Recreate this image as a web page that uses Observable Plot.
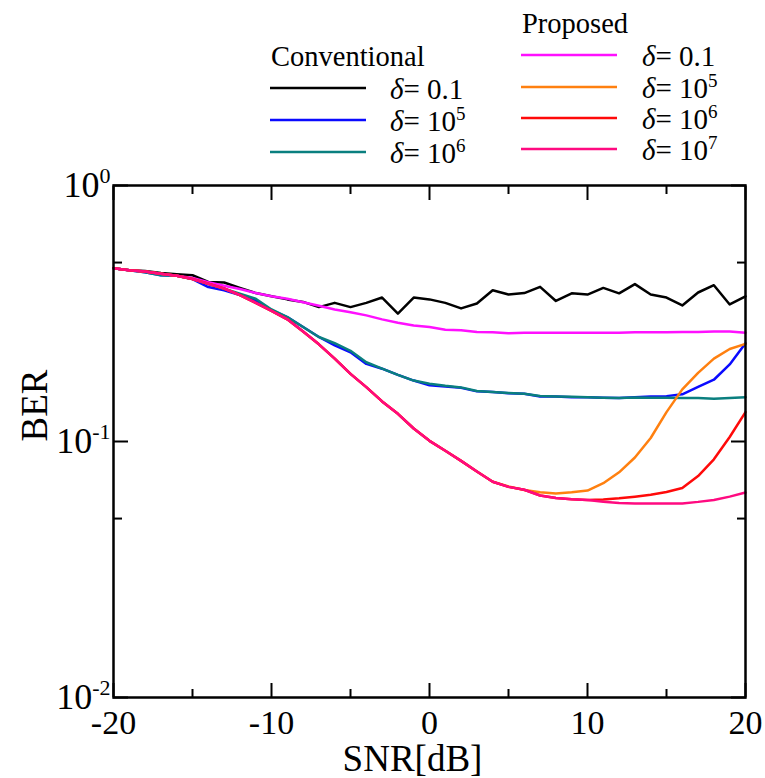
<!DOCTYPE html>
<html>
<head>
<meta charset="utf-8">
<script src="https://cdn.jsdelivr.net/npm/d3@7"></script>
<script src="https://cdn.jsdelivr.net/npm/@observablehq/plot@0.6"></script>
<style>
  body { margin: 0; background: #fff; }
  #wrap { position: relative; width: 765px; height: 778px; font-family: "Liberation Serif", "Times New Roman", serif; }
  #wrap > svg { position: absolute; left: 0; top: 0; }
</style>
</head>
<body>
<div id="wrap"></div>
<script>
// ---------- data ----------
const snr = [-20,-19,-18,-17,-16,-15,-14,-13,-12,-11,-10,-9,-8,-7,-6,-5,-4,-3,-2,-1,0,1,2,3,4,5,6,7,8,9,10,11,12,13,14,15,16,17,18,19,20];

const convD01 = [0.475,0.467,0.463,0.455,0.450,0.446,0.420,0.418,0.398,0.380,0.369,0.359,0.351,0.335,0.348,0.335,0.348,0.365,0.316,0.365,0.359,0.348,0.331,0.346,0.390,0.375,0.380,0.402,0.354,0.379,0.375,0.398,0.379,0.412,0.375,0.365,0.340,0.382,0.408,0.343,0.369];
const convD1e5 = [0.475,0.467,0.458,0.446,0.444,0.431,0.401,0.390,0.373,0.356,0.326,0.306,0.280,0.256,0.2375,0.223,0.201,0.1925,0.182,0.173,0.1657,0.164,0.162,0.157,0.156,0.1545,0.1537,0.150,0.150,0.149,0.149,0.1483,0.1478,0.149,0.150,0.1504,0.1528,0.1633,0.1743,0.200,0.2418];
const convD1e6 = [0.475,0.467,0.458,0.446,0.444,0.431,0.412,0.395,0.378,0.361,0.328,0.306,0.280,0.256,0.242,0.226,0.204,0.1925,0.182,0.173,0.168,0.165,0.1627,0.1576,0.1562,0.1548,0.1537,0.1507,0.150,0.1494,0.149,0.1483,0.1478,0.1487,0.1483,0.1483,0.148,0.1478,0.1469,0.148,0.149];
const propD01 = [0.475,0.467,0.461,0.452,0.444,0.435,0.419,0.406,0.394,0.380,0.369,0.361,0.350,0.339,0.328,0.320,0.311,0.300,0.291,0.284,0.280,0.273,0.272,0.268,0.267,0.265,0.266,0.266,0.266,0.266,0.266,0.266,0.266,0.267,0.267,0.267,0.268,0.268,0.269,0.269,0.266];
const propD1e5 = [0.475,0.467,0.461,0.452,0.444,0.431,0.4135,0.396,0.373,0.348,0.324,0.300,0.269,0.2397,0.2107,0.1837,0.1631,0.1434,0.1283,0.1124,0.1006,0.0920,0.0840,0.0763,0.0696,0.0667,0.0647,0.0633,0.0627,0.0633,0.0643,0.0687,0.0758,0.0866,0.1032,0.1302,0.1598,0.1854,0.2107,0.2298,0.2407];
const propD1e6 = [0.475,0.467,0.461,0.452,0.444,0.431,0.4135,0.396,0.373,0.348,0.324,0.300,0.269,0.2397,0.2107,0.1837,0.1631,0.1434,0.1283,0.1124,0.1006,0.0920,0.0840,0.0763,0.0696,0.0665,0.0648,0.0615,0.0602,0.0595,0.0591,0.0594,0.0600,0.0609,0.0620,0.0635,0.0658,0.0733,0.0852,0.1041,0.1302];
const propD1e7 = [0.475,0.467,0.461,0.452,0.444,0.431,0.4135,0.396,0.373,0.348,0.324,0.300,0.269,0.2397,0.2107,0.1837,0.1631,0.1434,0.1283,0.1124,0.1006,0.0920,0.0840,0.0763,0.0696,0.0665,0.0648,0.0615,0.0602,0.0595,0.0591,0.0582,0.0575,0.0573,0.0573,0.0573,0.0573,0.0581,0.0591,0.0609,0.0632];

const seriesNames = ["conv 0.1","conv 1e5","conv 1e6","prop 0.1","prop 1e5","prop 1e6","prop 1e7"];
const seriesColors = ["#000000","#0a0aff","#0a7f7f","#ff10ff","#ff8010","#ff0a0a","#ff0a80"];
const seriesValues = [convD01, convD1e5, convD1e6, propD01, propD1e5, propD1e6, propD1e7];

const legendGroups = ["Conventional", "Proposed"];
const convLegend = [["0.1", null], ["10", "5"], ["10", "6"]];
const propLegend = [["0.1", null], ["10", "5"], ["10", "6"], ["10", "7"]];

const xMajor = [-20, -10, 0, 10, 20];
const xMinor = [-15, -5, 5, 15];
const yMajor = [1, 0.1, 0.01];
const yMinor = [0.5, 0.05];
const yTickLabels = ["10^0", "10^-1", "10^-2"];

// ---------- rows ----------
const rows = seriesNames.flatMap((name, s) => snr.map((x, i) => ({snr: x, ber: seriesValues[s][i], series: name})));

const font = "Liberation Serif, Times New Roman, serif";
const tickOpts = {label: null, fill: "none", strokeWidth: 2};
const yLabelOf = d => yTickLabels[yMajor.findIndex(v => Math.abs(v - d) < 1e-9)];

const plot = Plot.plot({
  width: 765, height: 778,
  marginLeft: 113, marginRight: 20, marginTop: 185, marginBottom: 81,
  style: {fontFamily: font, background: "#fff", color: "#000"},
  x: {domain: [-20, 20]},
  y: {type: "log", domain: [0.01, 1]},
  color: {domain: seriesNames, range: seriesColors},
  marks: [
    ...seriesNames.map((name) => Plot.lineY(rows.filter(r => r.series === name), {
      x: "snr", y: "ber", stroke: "series", strokeWidth: 2.5
    })),
    Plot.frame({stroke: "#000", strokeWidth: 2.5}),
    Plot.axisX(xMajor, {anchor: "bottom", tickSize: -14, ...tickOpts}),
    Plot.axisX(xMinor, {anchor: "bottom", tickSize: -8, ...tickOpts}),
    Plot.axisX(xMajor, {anchor: "top", tickSize: -14, ...tickOpts}),
    Plot.axisX(xMinor, {anchor: "top", tickSize: -8, ...tickOpts}),
    Plot.axisY(yMajor, {anchor: "left", tickSize: -15, ...tickOpts}),
    Plot.axisY(yMinor, {anchor: "left", tickSize: -9, ...tickOpts}),
    Plot.axisY(yMajor, {anchor: "right", tickSize: -15, ...tickOpts}),
    Plot.axisY(yMinor, {anchor: "right", tickSize: -9, ...tickOpts}),
    Plot.axisX(xMajor, {anchor: "bottom", tickSize: 0, tickPadding: 12, label: null, fontSize: 34, tickFormat: d => String(d)}),
    Plot.axisY(yMajor, {anchor: "left", tickSize: 0, tickPadding: 3, label: null, fontSize: 36, tickFormat: yLabelOf}),
    Plot.text(["SNR[dB]"], {frameAnchor: "bottom", dx: -17, dy: 62, fontSize: 37, lineAnchor: "middle"}),
    Plot.text(["BER"], {frameAnchor: "left", rotate: -90, dx: -78, fontSize: 37, lineAnchor: "middle"})
  ]
});

// superscript exponents on the y tick labels
d3.select(plot).selectAll("text").each(function () {
  const t = this.textContent;
  if (!t || t.indexOf("^") < 0) return;
  const parts = t.split("^");
  const sel = d3.select(this);
  sel.selectAll("*").remove();
  sel.text(null);
  sel.append("tspan").text(parts[0]);
  sel.append("tspan").attr("dy", "-14").attr("font-size", 22).text(parts[1]);
});

const wrap = document.getElementById("wrap");
wrap.appendChild(plot);

// ---------- legend ----------
const leg = d3.select(wrap).append("svg")
  .attr("width", 765).attr("height", 175)
  .style("font-family", font)
  .style("pointer-events", "none");

leg.append("text").attr("x", 271).attr("y", 66).attr("font-size", 28.5).text(legendGroups[0]);
leg.append("text").attr("x", 522).attr("y", 33).attr("font-size", 28.5).text(legendGroups[1]);

function legendRow(x1, x2, xt, yLine, color, lab) {
  leg.append("line").attr("x1", x1).attr("x2", x2).attr("y1", yLine).attr("y2", yLine)
    .attr("stroke", color).attr("stroke-width", 2.5);
  const t = leg.append("text").attr("x", xt).attr("y", yLine + 10.5).attr("font-size", 29);
  t.append("tspan").attr("font-style", "italic").text("\u03b4");
  t.append("tspan").text("= " + lab[0]);
  if (lab[1]) t.append("tspan").attr("dy", -11).attr("font-size", 19).text(lab[1]);
}
const convY = [88, 120, 152];
const propY = [55, 87, 118, 149];
convLegend.forEach((lab, i) => legendRow(270, 366, 390, convY[i], seriesColors[i], lab));
propLegend.forEach((lab, i) => legendRow(521, 617, 642, propY[i], seriesColors[3 + i], lab));
</script>
</body>
</html>
